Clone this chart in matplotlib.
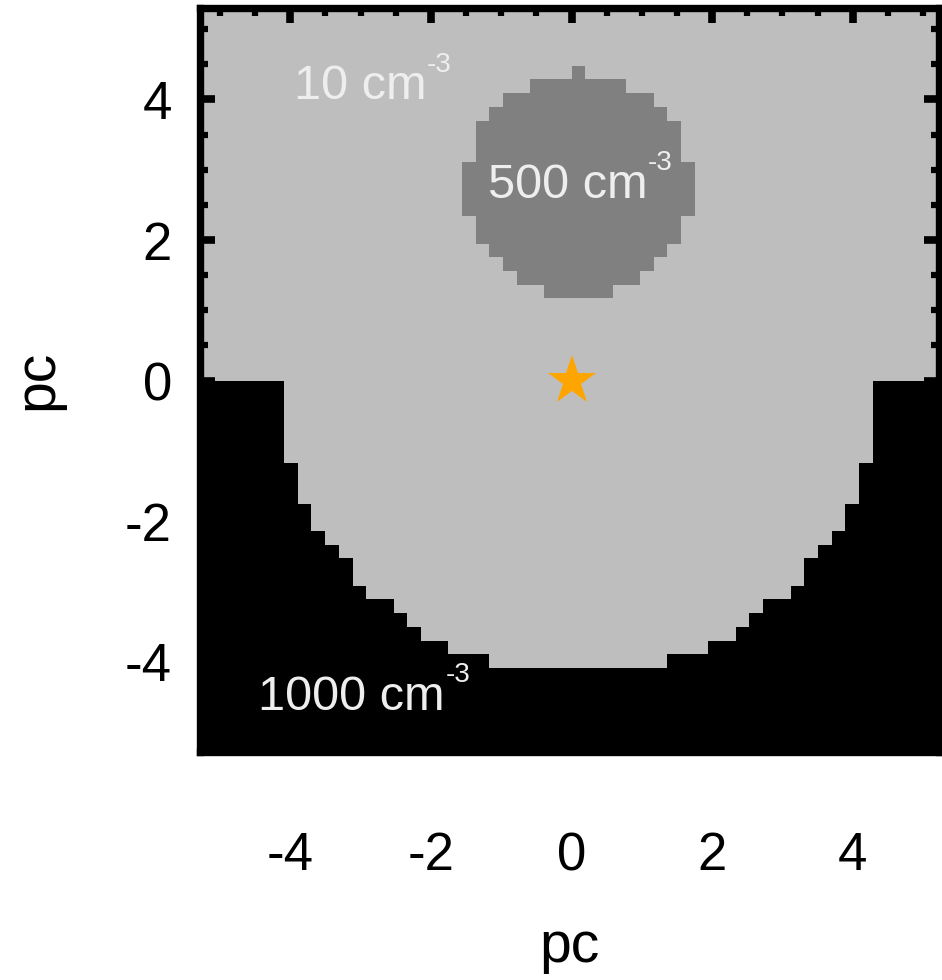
import numpy as np
import matplotlib
matplotlib.use("Agg")
import matplotlib.pyplot as plt
from matplotlib.colors import ListedColormap, BoundaryNorm
from matplotlib.ticker import MultipleLocator

# ---- model set-up ---------------------------------------------------------
# square grid of 54 x 54 cells spanning a 10.5 pc box
n_cells = 54
box_pc = 10.5
cell_pc = box_pc / n_cells

# gas densities (cm^-3)
n_ambient = 10
n_clump = 500
n_dense = 1000

# depth (cells below y = 0) of the cavity carved into the dense slab,
# indexed by |column offset| from the central column; further out the
# slab surface sits at y = 0
cavity_depth = [21, 21, 21, 21, 21, 21, 21, 20, 20, 20, 19,
                19, 18, 17, 16, 16, 15, 13, 12, 11, 9, 6]

# clump: first row (cells above y = 0) and half-width (cells) of each row
clump_row0 = 6
clump_halfwidth = [2, 4, 5, 6, 7, 7, 8, 8, 8, 8, 7, 7, 7, 6, 5, 3, 0]

# ionising star position (pc)
star_x = [0.0]
star_y = [0.0]

# region annotations
region_text = ["10 cm", "500 cm", "1000 cm"]
region_x = [-3.95, -1.19, -4.46]
region_y = [4.00, 2.60, -4.68]
power_text = "-3"

x_ticks = [-4, -2, 0, 2, 4]
y_ticks = [-4, -2, 0, 2, 4]

# ---- density grid -----------------------------------------------------------
idx = np.arange(n_cells) - n_cells // 2
ii, jj = np.meshgrid(idx, idx)
off = np.abs(ii)

density = np.full((n_cells, n_cells), float(n_ambient))
depth_lut = np.array(cavity_depth + [0])
depth = depth_lut[np.minimum(off, len(cavity_depth))]
density[jj < -depth] = n_dense

for k, hw in enumerate(clump_halfwidth):
    density[(jj == clump_row0 + k) & (off <= hw)] = n_clump

# ---- figure -------------------------------------------------------------------
plt.rcParams["font.family"] = ["Liberation Sans", "DejaVu Sans"]
plt.rcParams["axes.unicode_minus"] = False

fig = plt.figure(figsize=(9.42, 9.80), dpi=100)
ax = fig.add_axes([0.2120, 0.2327, 0.7843, 0.7589])

cmap = ListedColormap(["#bebebe", "#808080", "#000000"])
norm = BoundaryNorm([0, 100, 750, 5000], cmap.N)
lo = idx[0] * cell_pc
hi = (idx[-1] + 1) * cell_pc
ax.imshow(density, origin="lower", extent=(lo, hi, lo, hi), cmap=cmap,
          norm=norm, interpolation="nearest", aspect="auto", zorder=0)

ax.plot(star_x, star_y, linestyle="none", marker="*", markersize=37,
        color="#ffa500", markeredgewidth=0, zorder=3)

txt_color = "#eeeeee"
for s, x, y in zip(region_text, region_x, region_y):
    t = ax.text(x, y, s, color=txt_color, fontsize=35, ha="left",
                va="baseline", zorder=4)
    ax.annotate(power_text, xy=(1, 0), xycoords=t, xytext=(0.5, 27),
                textcoords="offset points", color=txt_color, fontsize=20,
                ha="left", va="baseline", zorder=4)

ax.set_xlim(-5.289, 5.22)
ax.set_ylim(-5.282, 5.297)

ax.xaxis.set_minor_locator(MultipleLocator(0.5))
ax.yaxis.set_minor_locator(MultipleLocator(0.5))
ax.set_xticks(x_ticks)
ax.set_yticks(y_ticks)

for sp in ax.spines.values():
    sp.set_linewidth(5.3)
    sp.set_color("black")
    sp.set_zorder(5)

ax.tick_params(which="both", direction="in", top=True, right=True,
               color="black", labelsize=38)
ax.tick_params(which="major", length=11, width=5.5)
ax.tick_params(which="minor", length=5.5, width=4.5)
ax.tick_params(axis="x", which="major", pad=57)
ax.tick_params(axis="y", which="major", pad=20)

ax.set_xlabel("pc", fontsize=41, labelpad=28)
ax.set_ylabel("pc", fontsize=41, labelpad=44)

fig.savefig("out.png", dpi=100)
